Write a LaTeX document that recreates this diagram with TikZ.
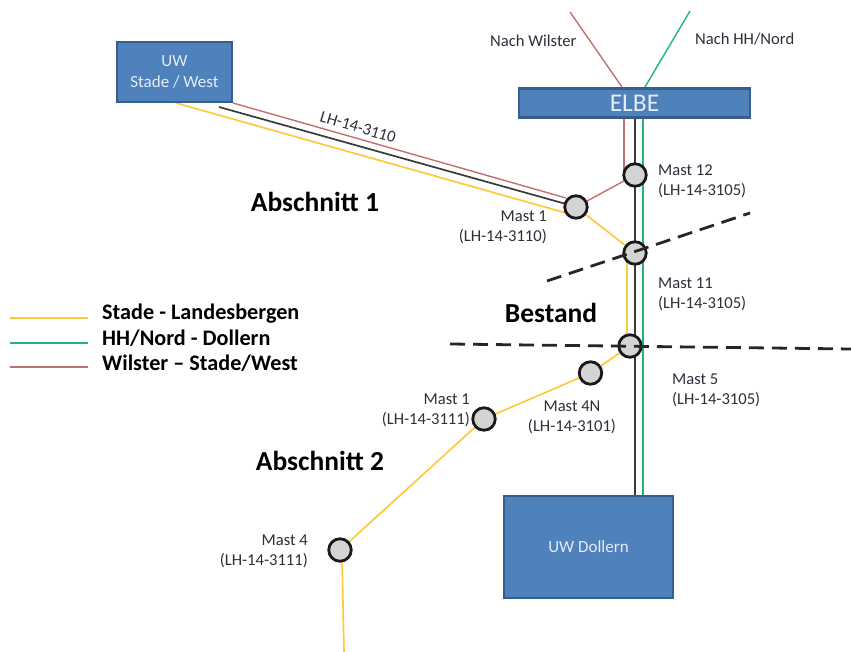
\documentclass[tikz,border=0pt]{standalone}
\usepackage{fontspec}
\setmainfont{Carlito}
\usetikzlibrary{backgrounds}
\definecolor{boxfill}{HTML}{4F81BD}
\definecolor{boxedge}{HTML}{385D8A}
\definecolor{lred}{HTML}{C0706E}
\definecolor{lgreen}{HTML}{22B573}
\definecolor{lyellow}{HTML}{FFC93C}
\definecolor{lblack}{HTML}{3A3A3A}
\definecolor{txt}{HTML}{2A2F3A}
\tikzset{
  ubox/.style={draw=boxedge,line width=2.4pt,fill=boxfill,text=white!85!boxfill,align=center,inner sep=0pt,font=\fontsize{17}{21}\selectfont},
  mast/.style={circle,draw=black!90,line width=2.8pt,fill=black!17,minimum size=22.5pt,inner sep=0pt},
  mleft/.style={text=txt,align=left,inner sep=0pt,anchor=west,font=\fontsize{16.6}{20.3}\selectfont},
  mright/.style={text=txt,align=right,inner sep=0pt,anchor=east,font=\fontsize{16.6}{20.3}\selectfont},
  head/.style={text=black,font=\bfseries\fontsize{27.5}{30}\selectfont,inner sep=0pt},
  legend/.style={text=black,anchor=west,font=\bfseries\fontsize{22.2}{26}\selectfont,inner sep=0pt},
  redl/.style={draw=lred,line width=1.4pt},
  greenl/.style={draw=lgreen,line width=1.4pt},
  yell/.style={draw=lyellow,line width=1.7pt},
  blackl/.style={draw=lblack,line width=1.7pt},
  dashl/.style={draw=black!85,line width=2.8pt,dash pattern=on 15pt off 8pt},
}
\begin{document}
\begin{tikzpicture}[x=1pt,y=-1pt]
\useasboundingbox (0,0) rectangle (851,652);
% boxes
\node[ubox,minimum width=115pt,minimum height=60pt] (uw) at (174.5,72) {UW\\Stade / West};
\node[ubox,minimum width=231pt,minimum height=29pt,font=\fontsize{25.5}{28}\selectfont] (elbe) at (634.5,103) {ELBE};
\node[ubox,minimum width=169pt,minimum height=102pt] (doll) at (588.5,547) {UW Dollern};
% masts
\node[mast] (m12) at (635,175) {};
\node[mast] (m1a) at (576,207) {};
\node[mast] (m11) at (635,253) {};
\node[mast] (m5) at (630,346) {};
\node[mast] (m4n) at (590.5,373) {};
\node[mast] (m1b) at (484,419) {};
\node[mast] (m4) at (340,550) {};
% free ends
\coordinate (wilT) at (570,12);
\coordinate (wilB) at (622,87);
\coordinate (hhT) at (690,11);
\coordinate (hhB) at (645,87);
\coordinate (redE) at (624,118);
\coordinate (redM) at (624,178);
\coordinate (grE) at (643,118);
\coordinate (grD) at (643,496);
\coordinate (blE) at (635,118);
\coordinate (blD) at (635,496);
\coordinate (redU) at (233,103);
\coordinate (redA) at (566,198);
\coordinate (blU) at (219,107);
\coordinate (blA) at (566,204);
\coordinate (yeU) at (176,103);
\coordinate (yeA) at (566,213);
\coordinate (yeB) at (627,262);
\coordinate (yeC) at (627,336);
\coordinate (yeStart) at (342,558);
\coordinate (yeEnd) at (344,652);
\coordinate (d1a) at (547,281);
\coordinate (d1b) at (750,213);
\coordinate (d2a) at (450,344);
\coordinate (d2b) at (851,349);
\coordinate (la) at (10,318);
\coordinate (lb) at (88,318);
\coordinate (lc) at (10,343);
\coordinate (ld) at (88,343);
\coordinate (le) at (10,367);
\coordinate (lf) at (88,367);
\begin{scope}[on background layer]
\draw[redl] (wilT) -- (wilB);
\draw[greenl] (hhT) -- (hhB);
\draw[redl] (redE) -- (redM);
\draw[redl] (m12) -- (m1a);
\draw[redl] (redU) -- (redA);
\draw[blackl] (blU) -- (blA);
\draw[yell] (yeU) -- (yeA);
\draw[yell] (m1a) -- (m11);
\draw[yell] (yeB) -- (yeC);
\draw[yell] (m5) -- (m4n);
\draw[yell] (m4n) -- (m1b);
\draw[yell] (m1b) -- (m4);
\draw[yell] (yeStart) -- (yeEnd);
\draw[blackl] (blE) -- (blD);
\draw[greenl] (grE) -- (grD);
\end{scope}
\draw[dashl] (d1a) -- (d1b);
\draw[dashl] (d2a) -- (d2b);
% labels
\node[mleft] (t1) at (490,40.5) {Nach Wilster};
\node[mleft] (t2) at (695,39.5) {Nach HH/Nord};
\node[mleft] (t3) at (658,181.5) {Mast 12\\(LH-14-3105)};
\node[mright] (t4) at (547,227.5) {Mast 1\\(LH-14-3110)};
\node[mleft] (t5) at (658,294.5) {Mast 11\\(LH-14-3105)};
\node[mleft] (t6) at (672,390) {Mast 5\\(LH-14-3105)};
\node[text=txt,align=center,inner sep=0pt,font=\fontsize{16.6}{20.3}\selectfont] (t7) at (572,417.5) {Mast 4N\\(LH-14-3101)};
\node[mright] (t8) at (470,410.5) {Mast 1\\(LH-14-3111)};
\node[mright] (t9) at (308,551) {Mast 4\\(LH-14-3111)};
\node[mleft,anchor=center,rotate=-16.5] (t10) at (358,127) {LH-14-3110};
\node[head] (h1) at (315,202) {Abschnitt 1};
\node[head] (h2) at (551,313) {Bestand};
\node[head] (h3) at (320,461) {Abschnitt 2};
\node[legend] (l1) at (102,314) {Stade - Landesbergen};
\node[legend] (l2) at (102,338) {HH/Nord - Dollern};
\node[legend] (l3) at (102,363) {Wilster – Stade/West};
\draw[yell] (la) -- (lb);
\draw[greenl] (lc) -- (ld);
\draw[redl] (le) -- (lf);
\end{tikzpicture}
\end{document}
